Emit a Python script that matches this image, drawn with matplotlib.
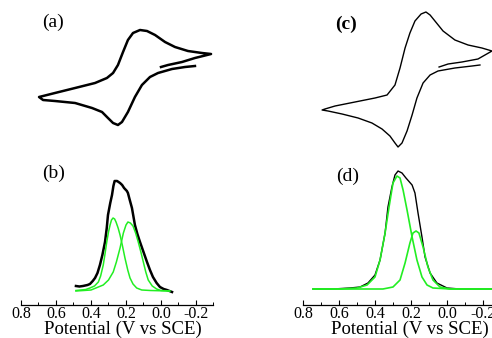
import matplotlib
matplotlib.use("Agg")
import matplotlib.pyplot as plt
from matplotlib.ticker import MultipleLocator, FormatStrFormatter

plt.rcParams['font.family'] = ['Liberation Serif', 'DejaVu Serif']
plt.rcParams['axes.unicode_minus'] = False

# ---------------- data (potential in V vs SCE, current in arbitrary units) -------------
# (a) cyclic voltammogram 1
cv1_E = [0.000, -0.040, -0.120, -0.194, -0.286,
         -0.234, -0.154, -0.080, -0.023, 0.034, 0.080, 0.120, 0.160, 0.189, 0.217, 0.246,
         0.274, 0.309, 0.377, 0.491, 0.606, 0.674, 0.697,
         0.674, 0.606, 0.491, 0.394, 0.337, 0.303, 0.274, 0.246, 0.223, 0.189, 0.149,
         0.109, 0.063, 0.017, -0.063, -0.137, -0.194]
cv1_I = [8.3, 8.5, 8.8, 9.2, 9.6,
         9.7, 9.9, 10.3, 10.8, 11.5, 11.9, 12.0, 11.7, 11.0, 9.8, 8.5,
         7.7, 7.2, 6.7, 6.2, 5.7, 5.4, 5.3,
         5.0, 4.9, 4.7, 4.2, 3.8, 3.2, 2.7, 2.5, 2.8, 3.8, 5.3,
         6.5, 7.3, 7.7, 8.1, 8.3, 8.4]

# (c) cyclic voltammogram 2
cv2_E = [0.044, -0.006, -0.083, -0.172, -0.250,
         -0.194, -0.117, -0.044, 0.022, 0.067, 0.094, 0.117, 0.144, 0.178, 0.206, 0.233,
         0.261, 0.289, 0.333, 0.400, 0.511, 0.622, 0.678, 0.694,
         0.661, 0.583, 0.494, 0.417, 0.361, 0.317, 0.289, 0.272, 0.250, 0.222, 0.194,
         0.167, 0.133, 0.094, 0.050, -0.044, -0.139, -0.183]
cv2_I = [8.3, 8.6, 8.8, 9.1, 9.9,
         10.2, 10.5, 11.0, 11.9, 12.9, 13.5, 13.8, 13.6, 12.9, 11.7, 10.2,
         8.2, 6.5, 5.5, 5.2, 4.8, 4.4, 4.1, 4.0,
         3.9, 3.6, 3.2, 2.7, 2.1, 1.4, 0.7, 0.3, 0.7, 1.9, 3.5,
         5.2, 6.7, 7.5, 7.9, 8.2, 8.4, 8.5]

# (b) differential pulse voltammogram 1 and its two fitted peaks
dpv1_E = [0.486, 0.466, 0.446, 0.420, 0.406, 0.390, 0.377, 0.363, 0.349, 0.335, 0.320,
          0.310, 0.303, 0.290, 0.280, 0.272, 0.265, 0.251, 0.234, 0.222, 0.211, 0.195,
          0.189, 0.180, 0.166, 0.149, 0.135, 0.120, 0.100, 0.080, 0.063, 0.046, 0.025,
          0.006, -0.015, -0.034, -0.063]
dpv1_I = [1.9, 1.85, 1.9, 2.0, 2.1, 2.4, 2.7, 3.2, 4.0, 5.0, 6.3,
          7.7, 9.0, 10.2, 11.0, 11.9, 12.4, 12.4, 12.2, 12.0, 11.7, 11.4,
          11.2, 10.6, 9.7, 8.0, 7.1, 6.3, 5.3, 4.3, 3.5, 2.8, 2.2,
          1.8, 1.6, 1.5, 1.3]
fit1a_E = [0.486, 0.430, 0.406, 0.380, 0.358, 0.345, 0.330, 0.320, 0.310, 0.300, 0.291,
           0.283, 0.274, 0.265, 0.257, 0.245, 0.234, 0.220, 0.206, 0.190, 0.177, 0.160,
           0.139, 0.110, 0.060, -0.050]
fit1a_I = [1.45, 1.55, 1.7, 1.9, 2.3, 2.9, 4.0, 5.1, 6.3, 7.3, 8.0,
           8.5, 8.7, 8.6, 8.3, 7.7, 7.0, 5.9, 4.7, 3.5, 2.7, 2.1,
           1.7, 1.5, 1.45, 1.4]
fit1b_E = [0.486, 0.400, 0.330, 0.300, 0.273, 0.255, 0.234, 0.215, 0.200, 0.189, 0.175,
           0.160, 0.145, 0.130, 0.115, 0.101, 0.087, 0.073, 0.050, 0.025, 0.000, -0.050]
fit1b_I = [1.4, 1.5, 2.0, 2.5, 3.3, 4.3, 5.7, 7.2, 8.0, 8.3, 8.2,
           7.9, 7.2, 6.3, 5.3, 4.3, 3.3, 2.5, 1.9, 1.6, 1.45, 1.4]

# (d) differential pulse voltammogram 2 and its two fitted peaks
dpv2_E = [0.744, 0.633, 0.539, 0.483, 0.439, 0.400, 0.372, 0.344, 0.328, 0.306, 0.289,
          0.272, 0.250, 0.228, 0.194, 0.178, 0.161, 0.139, 0.122, 0.094, 0.056, 0.000,
          -0.072, -0.300]
dpv2_I = [1.6, 1.6, 1.7, 1.8, 2.2, 3.0, 4.5, 7.2, 9.8, 11.8, 13.0,
          13.4, 13.2, 12.7, 12.0, 11.2, 9.2, 6.8, 4.8, 3.2, 2.2, 1.7,
          1.6, 1.6]
fit2a_E = [0.744, 0.594, 0.500, 0.444, 0.400, 0.372, 0.344, 0.322, 0.300, 0.278, 0.261,
           0.244, 0.222, 0.194, 0.167, 0.139, 0.111, 0.078, -0.017, -0.300]
fit2a_I = [1.6, 1.6, 1.7, 2.0, 2.8, 4.5, 7.2, 9.8, 12.2, 12.9, 12.7,
           11.5, 9.5, 6.8, 4.5, 2.8, 2.0, 1.7, 1.6, 1.6]
fit2b_E = [0.744, 0.356, 0.300, 0.261, 0.233, 0.206, 0.189, 0.172, 0.156, 0.133, 0.106,
           0.078, 0.039, -0.017, -0.300]
fit2b_I = [1.6, 1.6, 1.8, 2.5, 4.2, 6.2, 7.2, 7.4, 7.2, 5.8, 3.8,
           2.5, 1.8, 1.6, 1.6]

x_ticks = [0.8, 0.6, 0.4, 0.2, 0.0, -0.2]
panel_labels = ['(a)', '(b)', '(c)', '(d)']
x_label = 'Potential (V vs SCE)'

# ---------------- figure ----------------
W, H = 492, 338
fig = plt.figure(figsize=(W / 100, H / 100), dpi=100)

def px_axes(x0, x1, ytop, ybot):
    return fig.add_axes([x0 / W, 1 - ybot / H, (x1 - x0) / W, (ybot - ytop) / H])

green = '#22ee22'

ax_a = px_axes(21, 213.5, 0, 150)
ax_c = px_axes(303, 501, 0, 150)
ax_b = px_axes(21, 213.5, 170, 305)
ax_d = px_axes(303, 501, 170, 305)

for ax in (ax_a, ax_c, ax_b, ax_d):
    ax.set_xlim(0.8, -0.3)
    ax.patch.set_alpha(0)
    for s in ('top', 'right', 'left'):
        ax.spines[s].set_visible(False)
    ax.set_yticks([])

for ax in (ax_a, ax_c):
    ax.spines['bottom'].set_visible(False)
    ax.set_xticks([])
    ax.set_ylim(0, 15)

ax_a.plot(cv1_E, cv1_I, color='black', lw=1.8, solid_joinstyle='round')
ax_c.plot(cv2_E, cv2_I, color='black', lw=1.0, solid_joinstyle='round')

ax_b.plot(dpv1_E, dpv1_I, color='black', lw=1.8, solid_joinstyle='round')
ax_b.plot(fit1a_E, fit1a_I, color=green, lw=1.1)
ax_b.plot(fit1b_E, fit1b_I, color=green, lw=1.1)

ax_d.plot(dpv2_E, dpv2_I, color='black', lw=1.0)
ax_d.plot(fit2a_E, fit2a_I, color=green, lw=1.2)
ax_d.plot(fit2b_E, fit2b_I, color=green, lw=1.2)

for ax, lx in ((ax_b, 123), (ax_d, 410)):
    ax.set_ylim(0, 13.5)
    ax.spines['bottom'].set_linewidth(0.9)
    ax.set_xticks(x_ticks)
    ax.xaxis.set_minor_locator(MultipleLocator(0.1))
    ax.xaxis.set_major_formatter(FormatStrFormatter('%.1f'))
    ax.tick_params(axis='x', which='major', direction='in', length=3.5, width=0.8,
                   pad=0.8, labelsize=11.5)
    ax.tick_params(axis='x', which='minor', direction='in', length=2, width=0.7)
    fig.text(lx / W, 1 - 334 / H, x_label, fontsize=13.5, ha='center', va='baseline')

fig.text(53 / W, 1 - 22.5 / H, panel_labels[0], fontsize=14, ha='center', va='center')
fig.text(54 / W, 1 - 173 / H, panel_labels[1], fontsize=14, ha='center', va='center')
fig.text(346 / W, 1 - 24 / H, panel_labels[2], fontsize=14, ha='center', va='center',
         fontweight='bold')
fig.text(348 / W, 1 - 176 / H, panel_labels[3], fontsize=14, ha='center', va='center')

fig.savefig('out.png', dpi=100)
